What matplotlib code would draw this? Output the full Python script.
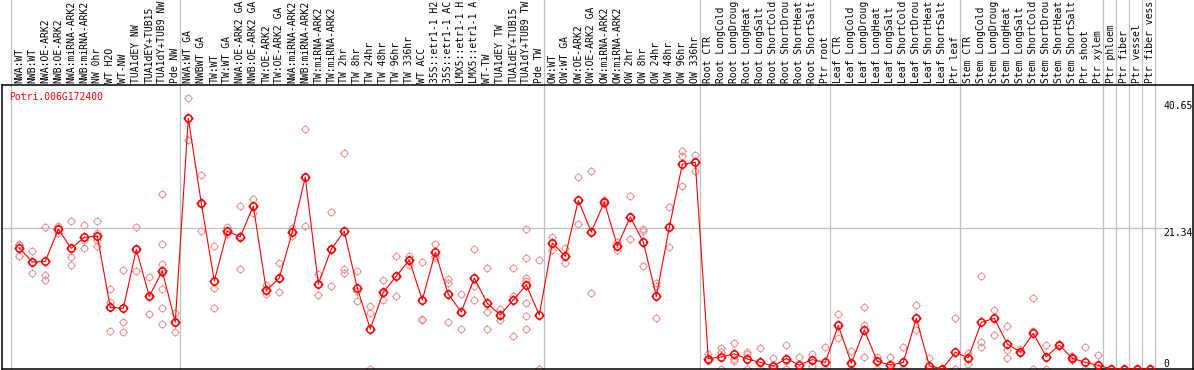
import matplotlib
matplotlib.use("Agg")
import matplotlib.pyplot as plt
import matplotlib.transforms as mtransforms
from matplotlib.path import Path
import numpy as np

gene = "Potri.006G172400"

labels = [
    "NWA:WT", "NWB:WT", "NWA:OE-ARK2", "NWB:OE-ARK2", "NWA:miRNA-ARK2", "NWB:miRNA-ARK2",
    "NW 0hr", "WT H2O", "WT-NW", "TUA1dEY NW", "TUA1dEY+TUB15", "TUA1dY+TUB9 NW", "Pde NW",
    "NWA:WT GA", "NWBWT GA", "TW:WT", "TW:WT GA", "NWA:OE-ARK2 GA", "NWB:OE-ARK2 GA",
    "TW:OE-ARK2", "TW:OE-ARK2 GA", "NWA:miRNA-ARK2", "NWB:miRNA-ARK2", "TW:miRNA-ARK2",
    "TW:miRNA-ARK2", "TW 2hr", "TW 8hr", "TW 24hr", "TW 48hr", "TW 96hr", "TW 336hr",
    "WT ACC", "35S::etr1-1 H2", "35S::etr1-1 AC", "LMX5::etr1-1 H", "LMX5::etr1-1 A",
    "WT-TW", "TUA1dEY TW", "TUA1dEY+TUB15", "TUA1dY+TUB9 TW", "Pde TW",
    "OW:WT", "OW:WT GA", "OW:OE-ARK2", "OW:OE-ARK2 GA", "OW:miRNA-ARK2", "OW:miRNA-ARK2",
    "OW 2hr", "OW 8hr", "OW 24hr", "OW 48hr", "OW 96hr", "OW 336hr",
    "Root CTR", "Root LongCold", "Root LongDroug", "Root LongHeat", "Root LongSalt",
    "Root ShortCold", "Root ShortDrou", "Root ShortHeat", "Root ShortSalt", "Ptr root",
    "Leaf CTR", "Leaf LongCold", "Leaf LongDroug", "Leaf LongHeat", "Leaf LongSalt",
    "Leaf ShortCold", "Leaf ShortDrou", "Leaf ShortHeat", "Leaf ShortSalt", "Ptr leaf",
    "Stem CTR", "Stem LongCold", "Stem LongDroug", "Stem LongHeat", "Stem LongSalt",
    "Stem ShortCold", "Stem ShortDrou", "Stem ShortHeat", "Stem ShortSalt", "Ptr shoot",
    "Ptr xylem", "Ptr phloem", "Ptr fiber", "Ptr vessel", "Ptr fiber vess",
]

# number of samples in each experiment block (gray separators between them)
group_sizes = [13, 28, 12, 10, 10, 11, 1, 1, 1, 1]

means = [
    18.35, 16.23, 16.33, 21.19, 18.3, 19.97, 20.17, 9.35, 9.2, 18.15, 11.02, 14.86, 7.13,
    38.02, 25.13, 13.35, 20.89, 20.07, 24.72, 11.93, 13.8, 20.78, 29.12, 12.89, 18.2,
    20.89, 12.24, 6.07, 11.63, 14.1, 16.53, 10.47, 17.7, 11.33, 8.65, 13.8, 9.96, 8.19,
    10.47, 12.74, 8.19,
    19.11, 17.09, 25.58, 20.78, 25.33, 18.66, 23.05, 19.26, 11.02, 21.49, 31.05, 31.35,
    1.57, 1.82, 2.28, 1.52, 1.01, 0.45, 1.57, 0.6, 1.42, 1.01,
    6.62, 0.86, 5.91, 1.16, 0.6, 1.01, 7.68, 0.51, 0.0, 2.53,
    1.72, 7.08, 7.68, 3.79, 2.58, 5.41, 1.87, 3.64, 1.62, 1.01, 0.56,
    0.0, 0.0, 0.0, 0.0,
]

replicates = [
    [19.0, 18.8, 17.1], [17.9, 16.3, 14.5], [21.5, 14.3, 13.5], [21.7, 21.2, 20.7],
    [22.4, 17.0, 15.7], [21.8, 19.6, 18.4], [22.4, 20.7, 19.6, 18.7], [12.2, 10.2, 5.7],
    [15.0, 7.2, 5.6], [21.5, 18.2, 14.8], [13.9, 11.0, 8.3],
    [26.6, 19.0, 16.0, 14.5, 12.2, 9.2, 6.9], [8.5, 7.2, 5.6],
    [41.1, 38.1, 34.8], [29.4, 25.1, 20.9], [18.7, 12.3, 9.2], [21.5, 20.9, 20.5],
    [24.7, 20.1, 15.1], [25.8, 24.7, 23.7], [12.8, 11.9, 11.3], [16.1, 13.8, 11.7],
    [21.4, 20.8, 20.1], [36.4, 29.1, 21.7], [14.4, 12.9, 11.2], [23.8, 18.2, 12.6],
    [32.7, 15.2, 14.6], [14.8, 11.8, 10.3], [9.6, 8.5, 0.0], [13.5, 11.6, 10.4],
    [17.1, 14.1, 11.0], [17.1, 16.5, 15.8], [16.2, 7.6, 7.4], [19.0, 17.1, 16.9],
    [13.7, 13.1, 7.1], [11.3, 8.6, 6.0], [18.2, 12.6, 10.5], [15.3, 8.7, 6.0],
    [9.1, 8.2, 7.4], [15.3, 11.0, 5.0], [21.3, 16.8, 13.8, 13.4, 10.0, 8.0, 6.1],
    [16.5, 0.0],
    [20.0, 19.1, 18.1], [18.3, 17.1, 16.1], [29.1, 25.6, 22.0], [30.0, 20.8, 11.5],
    [25.6, 25.3, 25.1], [19.3, 18.7, 18.1], [26.2, 23.1, 19.7], [21.2, 21.0, 15.6],
    [13.0, 12.6, 7.7], [24.5, 21.5, 18.5], [33.1, 32.3, 27.7], [32.4, 31.4, 30.1],
    [2.3, 1.5, 1.2], [3.2, 2.6, 0.0], [3.9, 1.5, 1.2], [2.6, 2.2, 0.0], [3.2, 1.0, 0.0],
    [1.6, 0.0], [3.7, 1.2, 0.0], [1.8, 0.0], [2.3, 1.4, 0.5], [3.4, 0.0],
    [8.3, 6.6, 4.7], [2.7, 0.0], [9.4, 6.7, 1.8], [1.8, 1.2, 0.0], [1.8, 0.0],
    [3.3, 0.0], [9.7, 7.7, 5.9], [1.7, 0.0], [0.0], [7.7, 0.0],
    [2.5, 1.7, 0.7], [14.1, 4.1, 3.4], [8.9, 7.7, 5.1], [6.5, 2.9, 1.6], [3.0, 2.6, 2.4],
    [10.7, 5.8, 0.0], [3.7, 0.0], [3.8, 3.6], [2.0, 1.6, 1.3], [3.3, 0.0], [2.1, 0.0],
    [0.0], [0.0], [0.0], [0.0],
]

y_marks = [40.65, 21.34, 0]

# ---- figure / layout (pixel based, 1194x370) ----
W, H = 1194, 370
fig = plt.figure(figsize=(W / 100, H / 100), dpi=100)
ax_l, ax_r, ax_t, ax_b = 1.5, 1193.0, 85.0, 369.0
ax = fig.add_axes([ax_l / W, (H - ax_b) / H, (ax_r - ax_l) / W, (ax_b - ax_t) / H])

col_w = 13.0
first_x = 19.3
xmin = -(first_x - ax_l) / col_w
ax.set_xlim(xmin, xmin + (ax_r - ax_l) / col_w)
px_per_unit = (ax_b - 228.3) / 21.34
ax.set_ylim(0, (ax_b - ax_t) / px_per_unit)

mono = "DejaVu Sans Mono"
fs = 7

# circle marker with little ticks sticking out
circ = Path.unit_circle()
tick_v = [(0, 1), (0, 1.4), (0, -1), (0, -1.4), (1, 0), (1.4, 0), (-1, 0), (-1.4, 0)]
tick_c = [Path.MOVETO, Path.LINETO] * 4
marker = Path.make_compound_path(circ, Path(tick_v, tick_c))

# separators
starts = np.concatenate([[0], np.cumsum(group_sizes)])
top_frac = ax_b / (ax_b - ax_t)
for s in starts:
    ax.axvline(s - 8 / col_w, ymin=0, ymax=top_frac, color="#c0c0c0", lw=0.9,
               clip_on=False, zorder=1)

ax.axhline(y_marks[1], xmin=0, xmax=(1163 - ax_l) / (ax_r - ax_l), color="#c0c0c0",
           lw=0.9, zorder=1)

x = np.arange(len(labels))
for i, reps in enumerate(replicates):
    ax.plot([i] * len(reps), reps, linestyle="none", marker=marker, markersize=6.3,
            markerfacecolor="none", markeredgecolor="#ee9a9a", markeredgewidth=0.8,
            zorder=2)

ax.plot(x, means, color="#ff0000", lw=0.8, marker=marker, markersize=7.2,
        markerfacecolor="none", markeredgecolor="#ff0000", markeredgewidth=1.1,
        zorder=3)

# top labels
ax.xaxis.tick_top()
ax.set_xticks(x)
ax.set_xticklabels(labels, rotation=90, fontsize=fs, family=mono)
ax.tick_params(axis="x", length=0, pad=1.5)
ax.set_yticks([])

for sp in ax.spines.values():
    sp.set_linewidth(1.1)
    sp.set_color("black")

ax.text((9.5 - ax_l) / (ax_r - ax_l), (ax_b - 96.5) / (ax_b - ax_t), gene,
        transform=ax.transAxes, color="#ff0000", fontsize=fs, family=mono,
        ha="left", va="center")

trans = mtransforms.blended_transform_factory(ax.transAxes, ax.transData)
lx = (1163 - ax_l) / (ax_r - ax_l)
for v in y_marks:
    txt = f"{v:.2f}" if v else "0"
    ax.text(lx, v, txt, transform=trans, fontsize=fs, family=mono, ha="left",
            va="top" if v else "bottom", color="black")

fig.savefig("out.png", dpi=100)
